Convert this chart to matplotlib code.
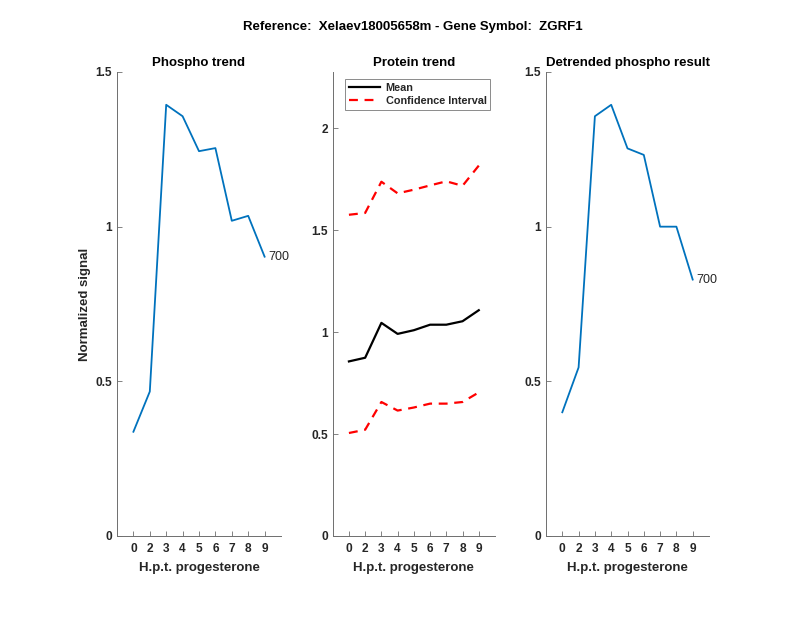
import matplotlib
matplotlib.use('Agg')
import matplotlib.pyplot as plt

# Data
hpt_labels = ['0', '2', '3', '4', '5', '6', '7', '8', '9']
phospho = [0.337, 0.467, 1.394, 1.357, 1.244, 1.254, 1.019, 1.035, 0.903]
protein_mean = [0.856, 0.874, 1.045, 0.991, 1.009, 1.036, 1.036, 1.053, 1.107]
protein_upper = [1.575, 1.584, 1.737, 1.680, 1.698, 1.719, 1.739, 1.717, 1.816]
protein_lower = [0.505, 0.521, 0.657, 0.615, 0.630, 0.649, 0.649, 0.657, 0.704]
detrended = [0.400, 0.545, 1.357, 1.394, 1.253, 1.232, 1.000, 1.000, 0.829]
peptide_label = '700'

plt.rcParams['font.family'] = ['Liberation Sans', 'DejaVu Sans']
blue = '#0072BD'
axcol = '#262626'
spinecol = '#6e6e6e'

W, H = 800, 618
fig = plt.figure(figsize=(8, 6.18), dpi=100)

def make_axes(left, right, top=72, bottom=536):
    return fig.add_axes([left / W, 1 - bottom / H, (right - left) / W, (bottom - top) / H])

def style(ax, ymax, yticks, ytl):
    xs = list(range(1, len(hpt_labels) + 1))
    ax.set_xlim(0, 10)
    ax.set_ylim(0, ymax)
    ax.set_xticks(xs)
    ax.set_xticklabels(hpt_labels)
    ax.set_yticks(yticks)
    ax.set_yticklabels(ytl)
    for s in ['top', 'right']:
        ax.spines[s].set_visible(False)
    for s in ['left', 'bottom']:
        ax.spines[s].set_color(spinecol)
        ax.spines[s].set_linewidth(0.7)
    ax.tick_params(direction='in', length=3.5, width=0.6, color=spinecol,
                   labelcolor=axcol, labelsize=8.6)
    ax.tick_params(axis='x', pad=5)
    ax.tick_params(axis='y', pad=3.5)
    for lab in ax.get_xticklabels() + ax.get_yticklabels():
        lab.set_fontweight('bold')
    ax.set_xlabel('H.p.t. progesterone', fontsize=9.5, fontweight='bold',
                  color=axcol, labelpad=5)
    return xs

# Panel 1
ax1 = make_axes(117, 281)
xs = style(ax1, 1.5, [0, 0.5, 1, 1.5], ['0', '0.5', '1', '1.5'])
ax1.plot(xs, phospho, color=blue, lw=1.3)
ax1.text(xs[-1] + 0.25, phospho[-1], peptide_label, fontsize=9, va='center', color=axcol)
ax1.set_title('Phospho trend', fontsize=9.5, fontweight='bold', pad=4)
ax1.set_ylabel('Normalized signal', fontsize=9.5, fontweight='bold', color=axcol, labelpad=3)

# Panel 2
ax2 = make_axes(332.7, 495)
xs = style(ax2, 2.275, [0, 0.5, 1, 1.5, 2], ['0', '0.5', '1', '1.5', '2'])
ax2.plot(xs, protein_mean, color='black', lw=1.6, label='Mean')
ax2.plot(xs, protein_upper, color='red', lw=1.6, ls=(0, (4, 3)), label='Confidence Interval')
ax2.plot(xs, protein_lower, color='red', lw=1.6, ls=(0, (4, 3)))
ax2.set_title('Protein trend', fontsize=9.5, fontweight='bold', pad=4)
leg = ax2.legend(loc='upper left', bbox_to_anchor=((345 - 332.7) / 162.3, (536 - 79) / 464),
                 prop={'weight': 'bold', 'size': 7.8}, frameon=True, fancybox=False,
                 borderpad=0.35, handlelength=2.9, handletextpad=0.5,
                 labelspacing=0.3, borderaxespad=0)
leg.get_frame().set_edgecolor(spinecol)
leg.get_frame().set_linewidth(0.7)
for t in leg.get_texts():
    t.set_color(axcol)

# Panel 3
ax3 = make_axes(546, 709)
xs = style(ax3, 1.5, [0, 0.5, 1, 1.5], ['0', '0.5', '1', '1.5'])
ax3.plot(xs, detrended, color=blue, lw=1.3)
ax3.text(xs[-1] + 0.25, detrended[-1], peptide_label, fontsize=9, va='center', color=axcol)
ax3.set_title('Detrended phospho result', fontsize=9.5, fontweight='bold', pad=4)

fig.text(413 / W, 1 - 27 / H, 'Reference:  Xelaev18005658m - Gene Symbol:  ZGRF1',
         ha='center', va='center', fontsize=9.5, fontweight='bold')

fig.savefig('out.png', dpi=100)
